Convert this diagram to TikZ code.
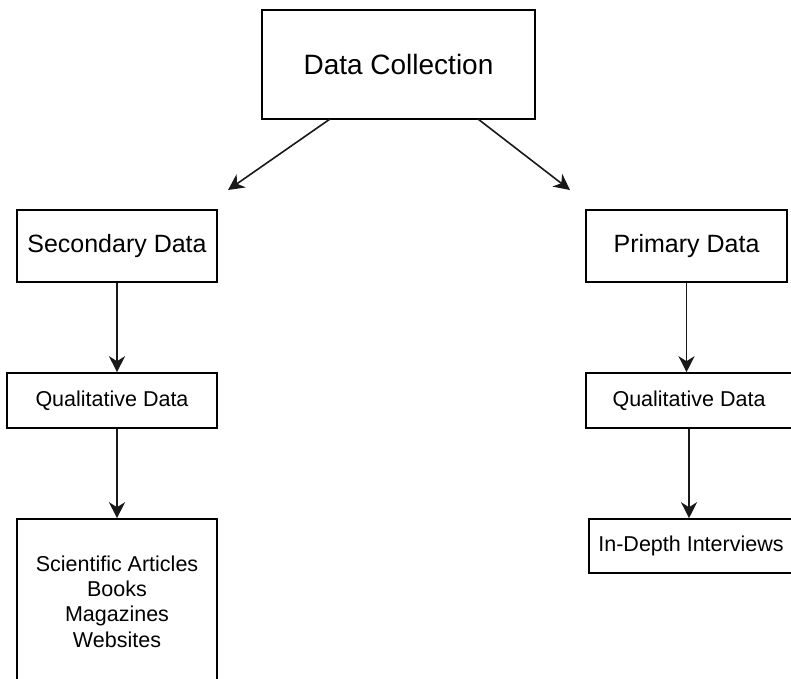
\documentclass[tikz,border=0pt]{standalone}
\usepackage{fontspec}
\setmainfont{Liberation Sans}
\usetikzlibrary{arrows.meta}
\tikzset{
  box/.style={draw=black, line width=1.6pt, fill=white, inner sep=0pt, align=center, text=black},
  big/.style={font=\fontsize{28}{34}\selectfont},
  mid/.style={font=\fontsize{25}{30}\selectfont},
  small/.style={font=\fontsize{21.5}{25.3}\selectfont},
  arr/.style={draw=black!90, line width=1.6pt, -{Stealth[length=16pt,width=16pt,inset=5pt]}}
}
\begin{document}
\begin{tikzpicture}[x=1pt,y=-1pt]
\useasboundingbox (0,0) rectangle (791,678);
\clip (0,0) rectangle (791,678);
\fill[white] (0,0) rectangle (791,678);
\node[box,big,minimum width=273pt,minimum height=109pt] (dc) at (398.5,64.5) {Data Collection};
\node[box,mid,minimum width=200pt,minimum height=72pt] (sec) at (117,246) {Secondary Data};
\node[box,mid,minimum width=201pt,minimum height=72pt] (prim) at (686.5,246) {Primary Data};
\node[box,small,minimum width=210pt,minimum height=55pt] (qualL) at (112,400.5) {Qualitative Data};
\node[box,small,minimum width=206pt,minimum height=55pt] (qualR) at (689,400.5) {Qualitative Data};
\node[box,small,minimum width=200pt,minimum height=165pt] (sci) at (117,601.5) {Scientific Articles\\Books\\Magazines\\Websites};
\node[box,small,minimum width=204pt,minimum height=54pt] (ind) at (691,546) {In-Depth Interviews};
\coordinate (dcL) at (330,119);
\coordinate (dcR) at (478,119);
\coordinate (endL) at (228,190);
\coordinate (endR) at (570,190);
\draw[arr] (dcL) -- (endL);
\draw[arr] (dcR) -- (endR);
\draw[arr] (sec.south) -- (sec.south |- qualL.north);
\draw[arr] (sec.south |- qualL.south) -- (sec.south |- sci.north);
\draw[arr] (prim.south) -- (prim.south |- qualR.north);
\draw[arr] (qualR.south) -- (qualR.south |- ind.north);
\end{tikzpicture}
\end{document}
